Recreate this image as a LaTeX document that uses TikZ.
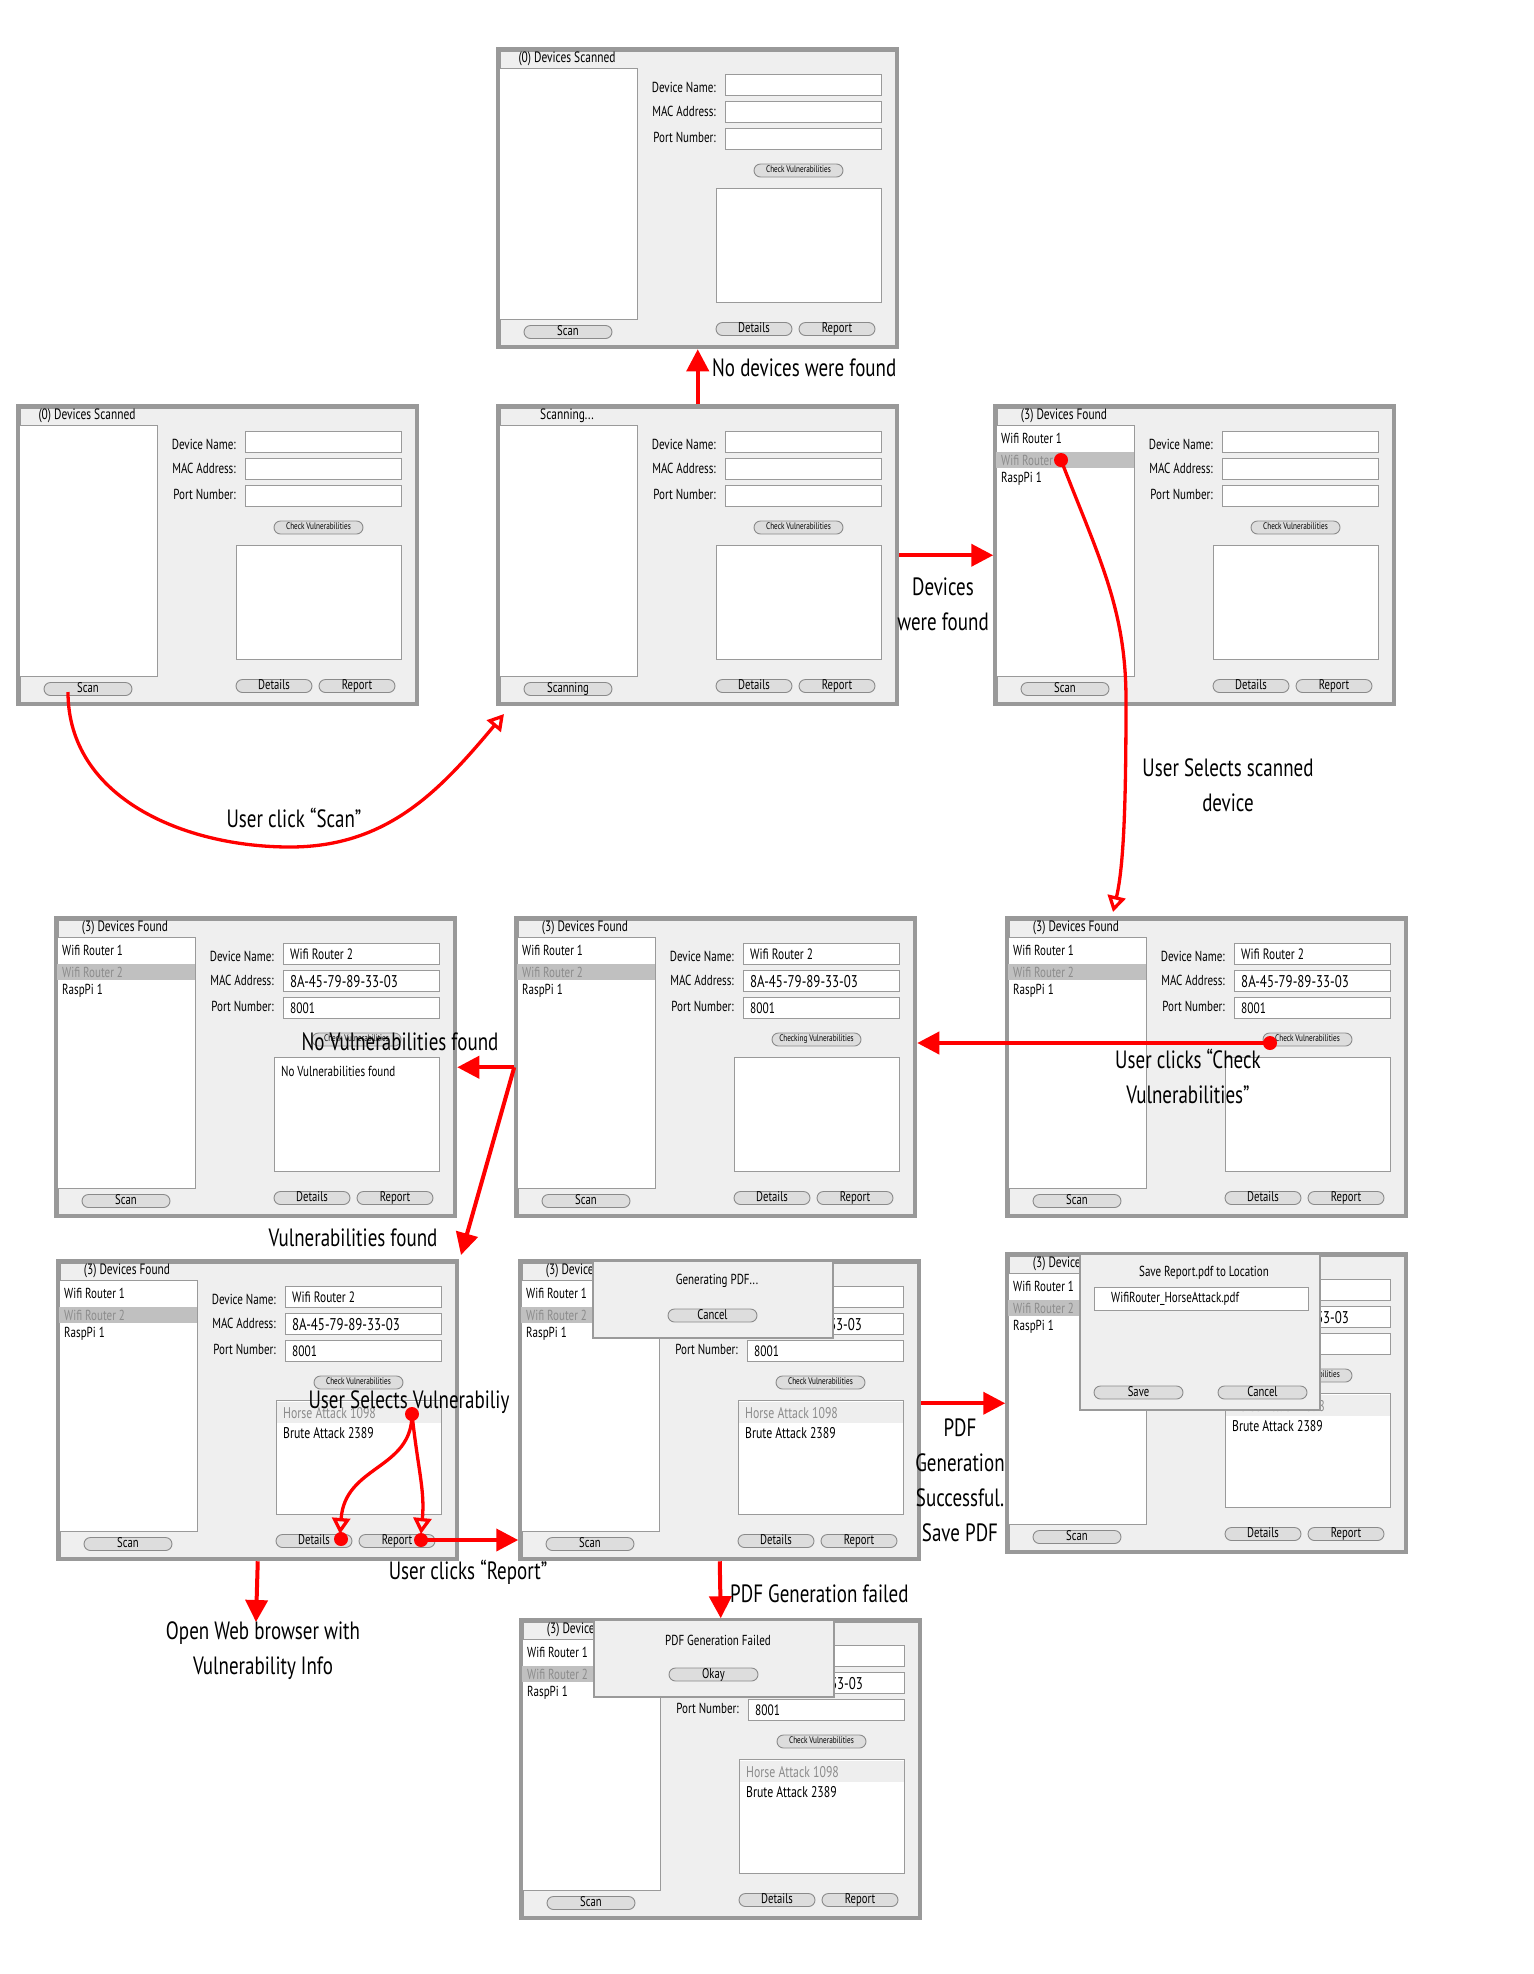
\documentclass[tikz,border=0pt]{standalone}
\usepackage{fontspec}
\setmainfont{PT Sans}[FakeStretch=0.76]
\usetikzlibrary{arrows.meta,calc}

\definecolor{winfill}{HTML}{EFEFEF}
\definecolor{winborder}{HTML}{999999}
\definecolor{boxborder}{HTML}{9A9A9A}
\definecolor{pillfill}{HTML}{DDDDDD}
\definecolor{pillborder}{HTML}{8A8A8A}
\definecolor{selrow}{HTML}{C0C0C0}
\definecolor{seltxt}{HTML}{8C8C8C}
\definecolor{vulnrow}{HTML}{EEEEEE}
\definecolor{redl}{HTML}{FF0000}

\newcommand\fs[1]{\fontsize{#1}{#1}\selectfont}

\tikzset{
  winbox/.style={draw=winborder, line width=4.5pt, fill=winfill, minimum width=398.5pt, minimum height=297.5pt, inner sep=0pt, anchor=north west},
  whitebox/.style={draw=boxborder, line width=1pt, fill=white, inner sep=0pt, anchor=north west},
  pill/.style={draw=pillborder, line width=0.9pt, fill=pillfill, rounded corners=6.5pt, minimum height=13pt, inner sep=0pt, text height=9pt, text depth=2pt, font=\fs{14}},
  uitxt/.style={inner sep=0pt, font=\fs{14.5}, text=black},
  lbl/.style={uitxt, anchor=east},
  note/.style={inner sep=0pt, font=\fontsize{25}{35}\selectfont, align=center},
  redarrow/.style={draw=redl, line width=4pt, -{Triangle[length=22pt,width=22pt]}},
  hookarrow/.style={draw=redl, line width=3.3pt, -{Triangle[open, length=16pt, width=18pt]}},
  reddot/.style={circle, fill=redl, inner sep=0pt, minimum size=14pt},
  dialog/.style={draw=boxborder, line width=1.5pt, fill=winfill, inner sep=0pt, anchor=north west},
}

% window: name, x, y, title, scan text, check text
\newcommand\uiwin[6]{%
  \coordinate (#1-o) at (#2,#3);
  \begin{scope}[shift={(#1-o)}]
    \node[winbox] (#1) at (2.25,2.25) {};
    \node[uitxt, font=\fs{15}] (#1-title) at (73,14) {#4};
    \node[whitebox, minimum width=138.5pt, minimum height=251pt] (#1-list) at (4.5,23) {};
    \node[pill, minimum width=88pt] (#1-scan) at (74,287) {#5};
    \node[lbl] (#1-l1) at (222,42) {Device Name:};
    \node[lbl] (#1-l2) at (222,66) {MAC Address:};
    \node[lbl] (#1-l3) at (222,92) {Port Number:};
    \node[whitebox, minimum width=156pt, minimum height=21pt] (#1-f1) at (231,29) {};
    \node[whitebox, minimum width=156pt, minimum height=21pt] (#1-f2) at (231,56) {};
    \node[whitebox, minimum width=156pt, minimum height=21pt] (#1-f3) at (231,83) {};
    \node[pill, minimum width=89pt, font=\fs{9.5}, text height=6pt, text depth=1.5pt] (#1-check) at (304.5,125.5) {#6};
    \node[whitebox, minimum width=165pt, minimum height=114pt] (#1-out) at (222,143) {};
    \node[pill, minimum width=76pt] (#1-det) at (260,284) {Details};
    \node[pill, minimum width=76pt] (#1-rep) at (343,284) {Report};
  \end{scope}}

\newcommand\uifound[1]{%
  \begin{scope}[shift={(#1-o)}]
    \fill[selrow] (5,50) rectangle (142.5,66);
    \node[uitxt, anchor=west] (#1-i1) at (10,36) {Wifi Router 1};
    \node[uitxt, anchor=west, text=seltxt] (#1-i2) at (10,58) {Wifi Router 2};
    \node[uitxt, anchor=west] (#1-i3) at (10,77) {RaspPi 1};
  \end{scope}}

\newcommand\uifilled[1]{%
  \begin{scope}[shift={(#1-o)}]
    \node[uitxt, anchor=west, font=\fs{15}] (#1-v1) at (238,40) {Wifi Router 2};
    \node[uitxt, anchor=west, font=\fs{17}] (#1-v2) at (238,67.5) {8A-45-79-89-33-03};
    \node[uitxt, anchor=west, font=\fs{15}] (#1-v3) at (238,94) {8001};
  \end{scope}}

\newcommand\uivulns[1]{%
  \begin{scope}[shift={(#1-o)}]
    \fill[vulnrow] (222.5,144.5) rectangle (386.5,166);
    \node[uitxt, anchor=west, font=\fs{15.5}, text=seltxt] (#1-h) at (229,156) {Horse Attack 1098};
    \node[uitxt, anchor=west, font=\fs{15.5}] (#1-b) at (229,176) {Brute Attack 2389};
  \end{scope}}

\newcommand\uidlg[3]{%
  \begin{scope}[shift={(#1-o)}]
    \node[dialog, minimum width=240pt, minimum height=77pt] (#1-dlg) at (76,3) {};
    \node[uitxt] (#1-dt) at (201,24) {#2};
    \node[pill, minimum width=89pt] (#1-db) at (196.5,58.5) {#3};
  \end{scope}}

\begin{document}
\begin{tikzpicture}[x=1pt, y=-1pt]
\fill[white] (0,0) rectangle (1534,1974);
\useasboundingbox (0,0) rectangle (1534,1974);

% ---- windows ----
\uiwin{w1}{494}{45}{(0) Devices Scanned}{Scan}{Check Vulnerabilities}
\uiwin{w2}{14}{402}{(0) Devices Scanned}{Scan}{Check Vulnerabilities}
\uiwin{w3}{494}{402}{Scanning...}{Scanning}{Check Vulnerabilities}
\uiwin{w4}{991}{402}{(3) Devices Found}{Scan}{Check Vulnerabilities}
\uifound{w4}

\uiwin{w5}{52}{914}{(3) Devices Found}{Scan}{Check Vulnerabilities}
\uifound{w5}\uifilled{w5}
\node[uitxt, anchor=west] (w5-nv) at ($(w5-o)+(229,157)$) {No Vulnerabilities found};

\uiwin{w6}{512}{914}{(3) Devices Found}{Scan}{Checking Vulnerabilities}
\uifound{w6}\uifilled{w6}

\uiwin{w7}{1003}{914}{(3) Devices Found}{Scan}{Check Vulnerabilities}
\uifound{w7}\uifilled{w7}

\uiwin{w8}{54}{1257}{(3) Devices Found}{Scan}{Check Vulnerabilities}
\uifound{w8}\uifilled{w8}\uivulns{w8}

\uiwin{w9}{516}{1257}{(3) Devices Found}{Scan}{Check Vulnerabilities}
\uifound{w9}\uifilled{w9}\uivulns{w9}
\uidlg{w9}{Generating PDF...}{Cancel}

\uiwin{w10}{1003}{1250}{(3) Devices Found}{Scan}{Check Vulnerabilities}
\uifound{w10}\uifilled{w10}\uivulns{w10}
\begin{scope}[shift={(w10-o)}]
  \node[dialog, minimum width=240pt, minimum height=156pt] (w10-dlg) at (76,3) {};
  \node[uitxt] (w10-dt) at (201,23) {Save Report.pdf to Location};
  \node[whitebox, minimum width=214pt, minimum height=23pt] (w10-df) at (91,37) {};
  \node[uitxt, anchor=west] (w10-dv) at (108,49) {WifiRouter\_HorseAttack.pdf};
  \node[pill, minimum width=89pt] (w10-save) at (135.5,142.5) {Save};
  \node[pill, minimum width=89pt] (w10-cancel) at (259.5,142.5) {Cancel};
\end{scope}

\uiwin{w11}{517}{1616}{(3) Devices Found}{Scan}{Check Vulnerabilities}
\uifound{w11}\uifilled{w11}\uivulns{w11}
\uidlg{w11}{PDF Generation Failed}{Okay}

% ---- connectors and notes ----
\draw[redarrow] (w3.north) -- (w1.south);
\node[note, anchor=west] (n1) at (712,368) {No devices were found};

\draw[redarrow] (w3.east) -- (w4.west);
\node[note] (n2) at (943,604) {Devices\\were found};

\coordinate (c-scan) at (68,692);
\coordinate (c-bot) at (290,847);
\coordinate (c-tip) at (504,714);
\draw[hookarrow] (c-scan) to[out=-90,in=180] (c-bot) to[out=0,in=-130] (c-tip);
\node[note] (n3) at (294,818) {User click “Scan”};

\node[reddot] (d1) at (1061,460) {};
\coordinate (c-mid1) at (1126,700);
\coordinate (t1) at (1113,912);
\draw[hookarrow] (d1.center) .. controls (1100,560) and (1126,610) .. (c-mid1) .. controls (1126,800) and (1124,865) .. (t1);
\node[note] (n4) at (1228,785) {User Selects scanned\\device};

\node[reddot] (d2) at (1270,1043) {};
\draw[redarrow] (d2.center) -- (d2.center -| w6.east);
\node[note] (n5) at (1188,1076) {User clicks “Check\\Vulnerabilities”};

\coordinate (t3) at (461,1255);
\draw[redarrow] (w6.west) -- (w5.east);
\draw[redarrow] (w6.west) -- (t3);
\node[note] (n6) at (400,1042) {No Vulnerabilities found};
\node[note] (n7) at (353,1238) {Vulnerabilities found};

\node[reddot] (d3) at (412,1414) {};
\node[reddot] (d4) at (341,1539) {};
\node[reddot] (d5) at (421,1540) {};
\coordinate (t4) at (340,1534);
\coordinate (t5) at (421,1534);
\draw[hookarrow] (d3.center) .. controls (412,1470) and (345,1465) .. (t4);
\draw[hookarrow] (d3.center) .. controls (418,1470) and (425,1490) .. (t5);
\draw[redarrow] (d5.center) -- (d5.center -| w9.west);
\node[note] (n8) at (409,1402) {User Selects Vulnerabiliy};
\node[note] (n9) at (468,1572) {User clicks “Report”};

\coordinate (t6) at (256,1622);
\draw[redarrow] (w8.south) -- (t6);
\node[note] (n10) at (263,1651) {Open Web browser with\\Vulnerability Info};

\draw[redarrow] (w9.east |- w10.west) -- (w10.west);
\node[note] (n11) at (960,1480) {PDF\\Generation\\Successful.\\Save PDF};

\draw[redarrow] (w9.south) -- (w11.north);
\node[note, anchor=west] (n12) at (730,1594) {PDF Generation failed};
\end{tikzpicture}
\end{document}
